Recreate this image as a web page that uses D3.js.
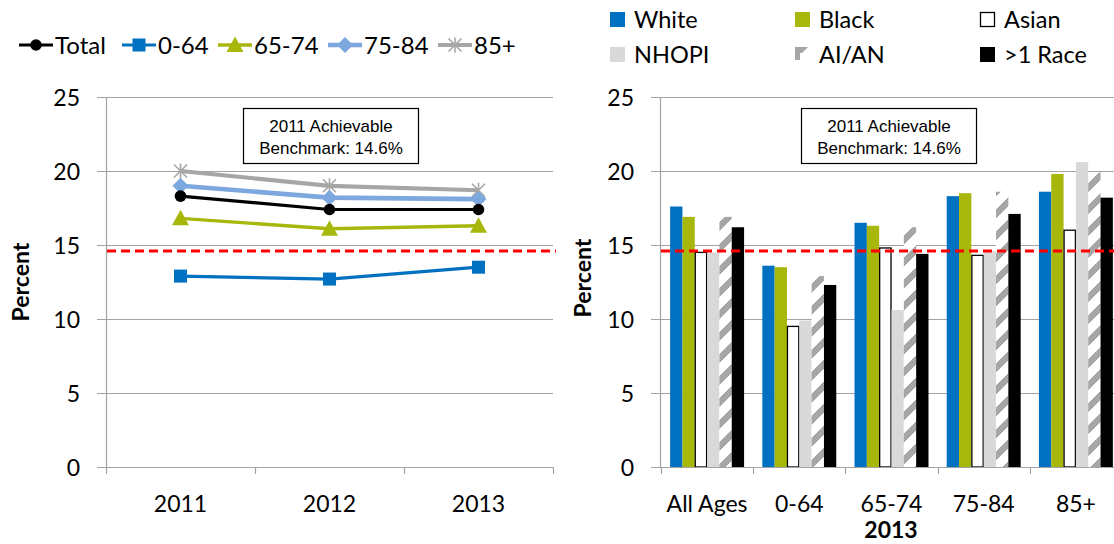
<!DOCTYPE html>
<html>
<head>
<meta charset="utf-8">
<script src="https://cdn.jsdelivr.net/npm/d3@7"></script>
<style>
  html, body { margin: 0; padding: 0; background: #fff; }
  svg { display: block; }
  text { font-family: Lato, "Open Sans", sans-serif; fill: #000; }
  text.note { font-family: "Liberation Sans", Arial, sans-serif; }
</style>
</head>
<body>
<svg id="chart" width="1114" height="544"></svg>
<script>
// ---- Data: left panel, trend by age group ----
const years = ["2011", "2012", "2013"];
const totalVals = [18.3, 17.4, 17.4];
const age0to64 = [12.9, 12.7, 13.5];
const age65to74 = [16.8, 16.1, 16.3];
const age75to84 = [19.0, 18.2, 18.1];
const age85plus = [20.0, 19.0, 18.7];

// ---- Data: right panel, 2013 by race and age ----
const ageGroups = ["All Ages", "0-64", "65-74", "75-84", "85+"];
const raceNames = ["White", "Black", "Asian", "NHOPI", "AI/AN", ">1 Race"];
const whiteVals = [17.6, 13.6, 16.5, 18.3, 18.6];
const blackVals = [16.9, 13.5, 16.3, 18.5, 19.8];
const asianVals = [14.5, 9.5, 14.8, 14.3, 16.0];
const nhopiVals = [14.5, 9.9, 10.6, 14.6, 20.6];
const aianVals = [16.9, 12.9, 16.2, 18.6, 19.9];
const multiVals = [16.2, 12.3, 14.4, 17.1, 18.2];

const benchmark = 14.6;
const yTicks = [0, 5, 10, 15, 20, 25];

const svg = d3.select("#chart");
const gridColor = "#a3a3a3";

// Diagonal hatch used for AI/AN
const defs = svg.append("defs");
const pat = defs.append("pattern")
  .attr("id", "hatch").attr("patternUnits", "userSpaceOnUse")
  .attr("width", 22).attr("height", 22);
pat.append("rect").attr("width", 22).attr("height", 22).attr("fill", "#fff");
pat.append("path")
  .attr("d", "M-2,24 L24,-2 M-6,6 L6,-6 M16,28 L28,16")
  .attr("stroke", "#a6a6a6").attr("stroke-width", 6.5)
  .attr("shape-rendering", "crispEdges");

// ---------------- shared y scale ----------------
const y = d3.scaleLinear().domain([0, 25]).range([467, 97]);

function drawYAxis(g, x0, x1) {
  g.selectAll("line.grid").data(yTicks).join("line")
    .attr("class", "grid")
    .attr("x1", x0 - 9).attr("x2", x1)
    .attr("y1", d => Math.round(y(d)) + 0.5).attr("y2", d => Math.round(y(d)) + 0.5)
    .attr("stroke", gridColor).attr("stroke-width", 1.2);
  g.append("line")
    .attr("x1", x0 + 0.5).attr("x2", x0 + 0.5)
    .attr("y1", y(25)).attr("y2", y(0))
    .attr("stroke", gridColor).attr("stroke-width", 1.2);
  g.selectAll("text.ytick").data(yTicks).join("text")
    .attr("class", "ytick")
    .attr("x", x0 - 26).attr("y", d => y(d) + 8.5)
    .attr("text-anchor", "end").attr("font-size", 23)
    .text(d => d);
}

function drawBenchmark(g, x0, x1) {
  g.append("line")
    .attr("x1", x0).attr("x2", x1)
    .attr("y1", y(benchmark)).attr("y2", y(benchmark))
    .attr("stroke", "#ff0000").attr("stroke-width", 3)
    .attr("stroke-dasharray", "9,5");
}

function drawNote(g, x, yTop) {
  g.append("rect").attr("x", x + 0.5).attr("y", yTop + 0.5)
    .attr("width", 175).attr("height", 55)
    .attr("fill", "#fff").attr("stroke", "#000").attr("stroke-width", 1.2);
  const t = g.append("text").attr("class", "note").attr("text-anchor", "middle")
    .attr("font-size", 17);
  t.append("tspan").attr("x", x + 88).attr("y", yTop + 24).text("2011 Achievable");
  t.append("tspan").attr("x", x + 88).attr("y", yTop + 46).text("Benchmark: 14.6%");
}

// ---------------- left panel: line chart ----------------
const left = svg.append("g");
const xL = d3.scaleBand().domain(years).range([106, 553]);
const xLc = d => xL(d) + xL.bandwidth() / 2;

drawYAxis(left, 106, 553);
left.selectAll("line.xtick").data(d3.range(years.length + 1)).join("line")
  .attr("x1", i => Math.round(106 + i * xL.step()) + 0.5)
  .attr("x2", i => Math.round(106 + i * xL.step()) + 0.5)
  .attr("y1", y(0)).attr("y2", y(0) + 7)
  .attr("stroke", gridColor).attr("stroke-width", 1.2);
left.selectAll("text.xlab").data(years).join("text")
  .attr("x", d => xLc(d)).attr("y", 512)
  .attr("text-anchor", "middle").attr("font-size", 23)
  .text(d => d);

left.append("text")
  .attr("transform", "translate(29,282) rotate(-90)")
  .attr("text-anchor", "middle").attr("font-size", 23).attr("font-weight", "bold")
  .text("Percent");

drawNote(left, 243, 108);
drawBenchmark(left, 107, 556);

const lineSeries = [
  { name: "85+", vals: age85plus, color: "#a6a6a6", marker: "star", w: 4.2 },
  { name: "75-84", vals: age75to84, color: "#7ca7df", marker: "diamond", w: 4.6 },
  { name: "Total", vals: totalVals, color: "#000000", marker: "circle", w: 3.2 },
  { name: "65-74", vals: age65to74, color: "#a8b70c", marker: "triangle", w: 3.4 },
  { name: "0-64", vals: age0to64, color: "#0070c0", marker: "square", w: 3.2 }
];

function drawMarker(g, type, cx, cy, color) {
  if (type === "circle") {
    g.append("circle").attr("cx", cx).attr("cy", cy).attr("r", 5.8).attr("fill", color);
  } else if (type === "square") {
    g.append("rect").attr("x", cx - 6.5).attr("y", cy - 6.5).attr("width", 13).attr("height", 13).attr("fill", color);
  } else if (type === "triangle") {
    g.append("path").attr("d", `M${cx},${cy - 8.5} L${cx + 8.5},${cy + 7} L${cx - 8.5},${cy + 7} Z`).attr("fill", color);
  } else if (type === "diamond") {
    g.append("path").attr("d", `M${cx},${cy - 8} L${cx + 8},${cy} L${cx},${cy + 8} L${cx - 8},${cy} Z`).attr("fill", color);
  } else if (type === "star") {
    const s = 6.5;
    g.append("path")
      .attr("d", `M${cx - s},${cy - s} L${cx + s},${cy + s} M${cx - s},${cy + s} L${cx + s},${cy - s} M${cx},${cy - s - 1} L${cx},${cy + s + 1}`)
      .attr("stroke", color).attr("stroke-width", 1.6).attr("fill", "none");
  }
}

const lineGen = d3.line().x((v, i) => xLc(years[i])).y(v => y(v));
lineSeries.forEach(s => {
  left.append("path").attr("d", lineGen(s.vals))
    .attr("fill", "none").attr("stroke", s.color).attr("stroke-width", s.w);
  s.vals.forEach((v, i) => drawMarker(left, s.marker, xLc(years[i]), y(v), s.color));
});

// left legend
const legendL = [
  { name: "Total", color: "#000000", marker: "circle", x: 19, w: 3.2 },
  { name: "0-64", color: "#0070c0", marker: "square", x: 122, w: 3.2 },
  { name: "65-74", color: "#a8b70c", marker: "triangle", x: 218, w: 3.4 },
  { name: "75-84", color: "#7ca7df", marker: "diamond", x: 328, w: 4.6 },
  { name: "85+", color: "#a6a6a6", marker: "star", x: 438, w: 4.2 }
];
legendL.forEach(d => {
  left.append("line").attr("x1", d.x).attr("x2", d.x + 34)
    .attr("y1", 45).attr("y2", 45).attr("stroke", d.color).attr("stroke-width", d.w);
  drawMarker(left, d.marker, d.x + 17, 45, d.color);
  left.append("text").attr("x", d.x + 36).attr("y", 53.5).attr("font-size", 24).text(d.name);
});

// ---------------- right panel: grouped bars ----------------
const right = svg.append("g");
const x0R = d3.scaleBand().domain(ageGroups).range([661, 1122]);
const x1R = d3.scaleBand().domain(raceNames).range([0, x0R.bandwidth()]).paddingOuter(0.74);

drawYAxis(right, 660, 1114);
right.selectAll("line.xtick").data(d3.range(ageGroups.length + 1)).join("line")
  .attr("x1", i => Math.round(661 + i * x0R.step()) + 0.5)
  .attr("x2", i => Math.round(661 + i * x0R.step()) + 0.5)
  .attr("y1", y(0)).attr("y2", y(0) + 7)
  .attr("stroke", gridColor).attr("stroke-width", 1.2);

const raceStyle = {
  "White": { fill: "#0070c0", stroke: "none" },
  "Black": { fill: "#a8b70c", stroke: "none" },
  "Asian": { fill: "#ffffff", stroke: "#000" },
  "NHOPI": { fill: "#d9d9d9", stroke: "none" },
  "AI/AN": { fill: "url(#hatch)", stroke: "none" },
  ">1 Race": { fill: "#000000", stroke: "none" }
};
const raceVals = [whiteVals, blackVals, asianVals, nhopiVals, aianVals, multiVals];

const barData = [];
ageGroups.forEach((g, gi) => raceNames.forEach((r, ri) => barData.push({ group: g, race: r, value: raceVals[ri][gi] })));

right.append("g").selectAll("rect").data(barData).join("rect")
  .attr("x", d => x0R(d.group) + x1R(d.race) + (raceStyle[d.race].stroke !== "none" ? 0.5 : 0))
  .attr("y", d => y(d.value))
  .attr("width", d => x1R.bandwidth() - (raceStyle[d.race].stroke !== "none" ? 1 : 0))
  .attr("height", d => y(0) - y(d.value))
  .attr("fill", d => raceStyle[d.race].fill)
  .attr("stroke", d => raceStyle[d.race].stroke)
  .attr("stroke-width", 1.3);

right.append("line").attr("x1", 660).attr("x2", 1114)
  .attr("y1", Math.round(y(0)) + 0.5).attr("y2", Math.round(y(0)) + 0.5)
  .attr("stroke", gridColor).attr("stroke-width", 1.2);

drawBenchmark(right, 661, 1114);
drawNote(right, 801, 108);

right.selectAll("text.xlab").data(ageGroups).join("text")
  .attr("x", d => x0R(d) + x0R.bandwidth() / 2).attr("y", 512)
  .attr("text-anchor", "middle").attr("font-size", 23)
  .text(d => d);
right.append("text").attr("x", 891).attr("y", 538)
  .attr("text-anchor", "middle").attr("font-size", 23).attr("font-weight", "bold")
  .text("2013");
right.append("text")
  .attr("transform", "translate(591,278) rotate(-90)")
  .attr("text-anchor", "middle").attr("font-size", 23).attr("font-weight", "bold")
  .text("Percent");

// right legend (3 columns x 2 rows)
const legColX = [610, 795, 980];
const legRowY = [12, 47];
raceNames.forEach((r, i) => {
  const cx = legColX[i % 3], ry = legRowY[Math.floor(i / 3)];
  const st = raceStyle[r];
  const g = right.append("g");
  if (r === "AI/AN") {
    // partial hatch swatch
    g.append("path").attr("d", `M${cx},${ry} h13 l-6,6 h-2 v7 h-5 Z`).attr("fill", "#a6a6a6");
  } else {
    g.append("rect").attr("x", cx + (st.stroke !== "none" ? 0.5 : 0)).attr("y", ry + (st.stroke !== "none" ? 0.5 : 0))
      .attr("width", st.stroke !== "none" ? 14 : 15).attr("height", st.stroke !== "none" ? 14 : 15)
      .attr("fill", st.fill).attr("stroke", st.stroke).attr("stroke-width", 1.3);
  }
  g.append("text").attr("x", cx + 24).attr("y", ry + 15.5).attr("font-size", 23.5).text(r);
});
</script>
</body>
</html>
